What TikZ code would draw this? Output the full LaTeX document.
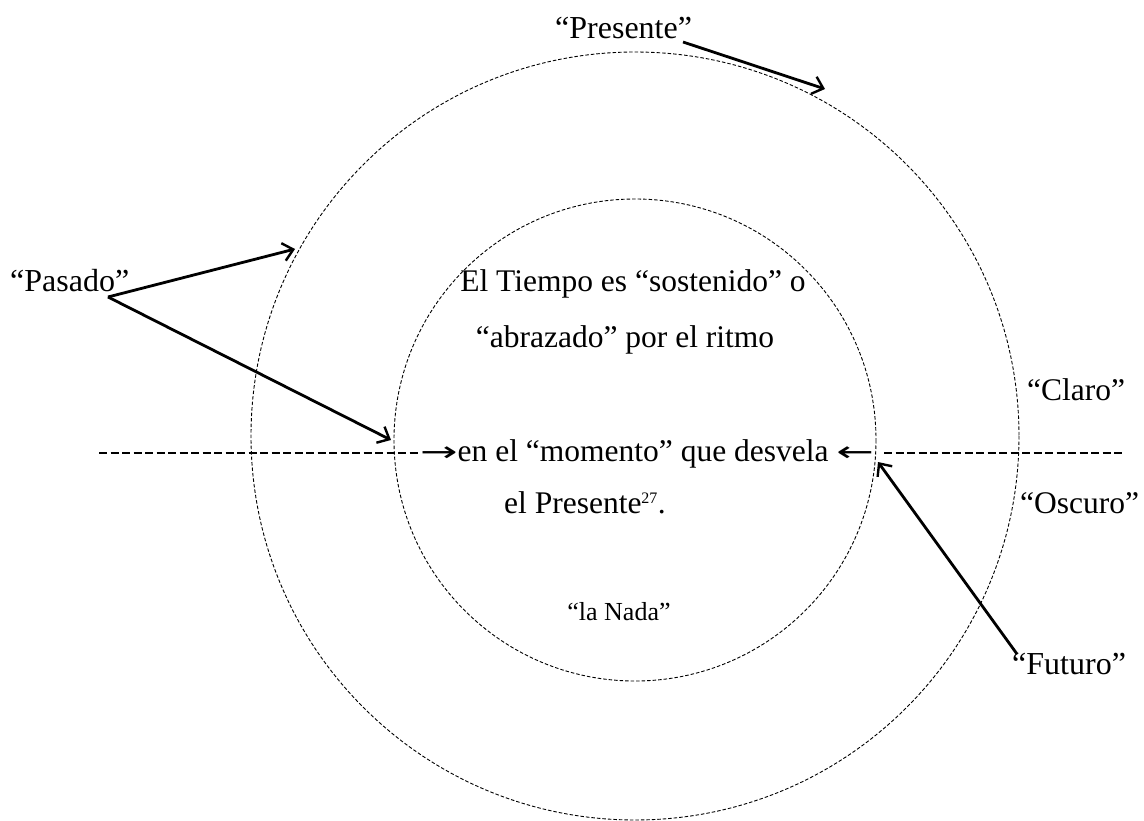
\documentclass[tikz,border=0pt]{standalone}
\usepackage{fontspec}
\setmainfont{Liberation Serif}
\newfontfamily\arrfont{DejaVu Sans}
\usetikzlibrary{arrows.meta}
\newcommand{\myarr}[1]{{\arrfont\fontsize{28}{30}\selectfont\scalebox{1.6}[1]{#1}}}
\tikzset{
  ring/.style={draw, dash pattern=on 3.5pt off 2pt, line width=0.9pt},
  axis/.style={draw, dash pattern=on 8pt off 3.5pt, line width=1.1pt},
  pointer/.style={draw, line width=2.8pt, -{Straight Barb[length=10pt,width=18pt,line width=2.4pt]}},
  lbl/.style={inner sep=0pt, font=\fontsize{32}{38}\selectfont},
  body/.style={inner sep=0pt, font=\fontsize{31.5}{36}\selectfont},
  small/.style={inner sep=0pt, font=\fontsize{26}{30}\selectfont},
}
\begin{document}
\begin{tikzpicture}[x=1pt,y=-1pt]
\useasboundingbox (0,0) rectangle (1144,821);
% circles
\coordinate (c1) at (635,436);
\coordinate (c2) at (635,440);
\draw[ring] (c1) circle[radius=384];
\draw[ring] (c2) circle[radius=241];
% central text
\node[body, anchor=base] (t1) at (633,292) {El Tiempo es “sostenido” o};
\node[body, anchor=base] (t2) at (625,348) {“abrazado” por el ritmo};
\node[body, anchor=base west] (t3) at (420,461) {\myarr{→}en el “momento” que desvela \myarr{←}};
\node[body, anchor=base] (t4) at (585,513) {el Presente\textsuperscript{\fontsize{16}{18}\selectfont 27}.};
\node[small, anchor=base] (nada) at (619,620) {“la Nada”};
% labels
\node[lbl, anchor=base west] (pres) at (555,39) {“Presente”};
\node[lbl, anchor=base west] (pas) at (10,292) {“Pasado”};
\node[body, anchor=base west] (claro) at (1027,400) {“Claro”};
\node[body, anchor=base west] (osc) at (1020,513) {“Oscuro”};
\node[lbl, anchor=base west] (fut) at (1012,674) {“Futuro”};
% horizontal dashed axis
\coordinate (al) at (99,453);
\coordinate (ar) at (1123,453);
\draw[axis] (al) -- (al -| t3.west);
\draw[axis] ([xshift=10pt]t3.east |- ar) -- (ar);
% arrow points
\coordinate (pa) at (108,297);
\coordinate (pa1) at (295,249);
\coordinate (pa2) at (391,440);
\coordinate (pr) at (683,42);
\coordinate (pr1) at (825,89);
\coordinate (fu) at (1017,654);
\coordinate (fu1) at (878,462);
\draw[pointer] (pr) -- (pr1);
\draw[pointer] (pa) -- (pa1);
\draw[pointer] (pa) -- (pa2);
\draw[pointer] (fu) -- (fu1);
\end{tikzpicture}
\end{document}
